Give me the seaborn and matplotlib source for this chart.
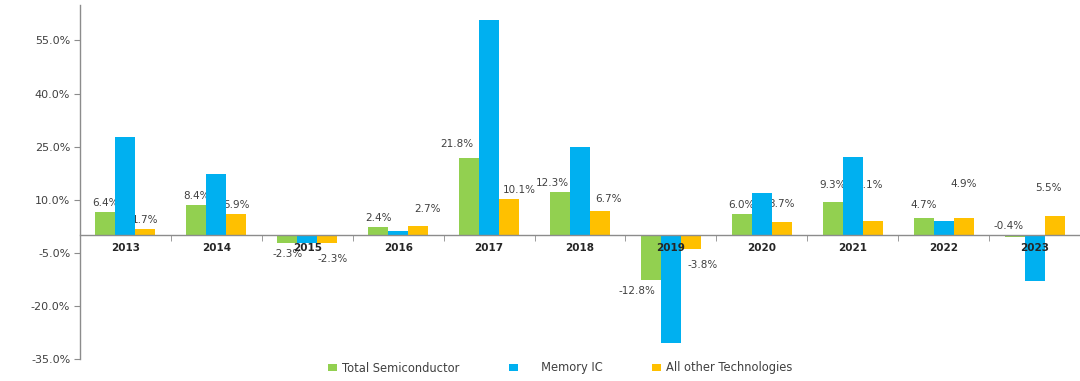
import matplotlib
matplotlib.use('Agg')
import matplotlib.pyplot as plt
import seaborn as sns
import pandas as pd

# dados do gráfico (crescimento anual, %)
years = ['2013', '2014', '2015', '2016', '2017', '2018', '2019', '2020', '2021', '2022', '2023']
total_semi = [6.4, 8.4, -2.3, 2.4, 21.8, 12.3, -12.8, 6.0, 9.3, 4.7, -0.4]
memory_ic = [27.8, 17.3, -2.3, 1.1, 60.8, 24.8, -30.5, 11.9, 22.2, 3.9, -13.1]
other_tech = [1.7, 5.9, -2.3, 2.7, 10.1, 6.7, -3.8, 3.7, 4.1, 4.9, 5.5]

series = ['Total Semiconductor', 'Memory IC', 'All other Technologies']
legend_labels = ['Total Semiconductor', '     Memory IC', 'All other Technologies']
colors = ['#92D050', '#00B0F0', '#FFC000']
yticks = [-35, -20, -5, 10, 25, 40, 55]

# ajustes manuais de rótulos (px): (ano, série) -> (dx, dy)
label_nudge = {
    ('2015', 2): (5, -5), ('2016', 2): (9, 8), ('2017', 0): (-12, 5),
    ('2017', 2): (10, 0), ('2018', 0): (-8, 0), ('2018', 2): (9, 3),
    ('2019', 0): (-14, 0), ('2019', 2): (12, -5), ('2020', 2): (0, 9),
    ('2021', 0): (0, 8), ('2021', 2): (-3, 27), ('2022', 0): (0, 4),
    ('2022', 2): (0, 25), ('2023', 0): (-6, 0), ('2023', 2): (-6, 19),
}

df = pd.DataFrame({
    'Year': years * 3,
    'Growth': total_semi + memory_ic + other_tech,
    'Series': [s for s in series for _ in years],
})

fig = plt.figure(figsize=(10.8, 3.81), dpi=100)
ax = fig.add_axes([80 / 1080, 1 - 359 / 381, 1 - 80 / 1080, 354 / 381])

sns.barplot(data=df, x='Year', y='Growth', hue='Series', hue_order=series,
            palette=colors, width=0.66, saturation=1, ax=ax)
handles, _ = ax.get_legend_handles_labels()
ax.legend_.remove()

ax.set_xlim(-0.5, len(years) - 0.5)
ax.set_ylim(-35, 65)
ax.set_yticks(yticks)
ax.set_yticklabels([f'{v:.1f}%' for v in yticks], fontsize=8, color='#404040')
ax.set_xlabel('')
ax.set_ylabel('')

for s in ['top', 'right']:
    ax.spines[s].set_visible(False)
ax.spines['bottom'].set_position(('data', 0))
for s in ['left', 'bottom']:
    ax.spines[s].set_color('#8c8c8c')
    ax.spines[s].set_linewidth(1)

ax.tick_params(axis='y', direction='out', length=4, color='#8c8c8c', pad=3)
ax.tick_params(axis='x', which='major', length=0, pad=6)
ax.set_xticks([i + 0.5 for i in range(len(years))], minor=True)
ax.tick_params(axis='x', which='minor', direction='out', length=4, color='#8c8c8c')
for t in ax.get_xticklabels():
    t.set_fontweight('bold')
    t.set_fontsize(7.5)
    t.set_color('#262626')

# rótulos só para Total Semiconductor e All other Technologies
for k in [0, 2]:
    for i, bar in enumerate(ax.containers[k]):
        v = [total_semi, memory_ic, other_tech][k][i]
        x = bar.get_x() + bar.get_width() / 2
        if v >= -1:
            y0, off = max(v, 0), 9
        else:
            y0, off = v, -11
        dx, dy = label_nudge.get((years[i], k), (0, 0))
        ax.annotate(f'{v:.1f}%', (x, y0), xytext=(dx * 0.72, (off + dy) * 0.72),
                    textcoords='offset points', ha='center', va='center',
                    fontsize=7.5, color='#404040', zorder=0.5)

fig.legend(handles, legend_labels, loc='center', bbox_to_anchor=(0.519, 1 - 368 / 381),
           ncol=3, frameon=False, fontsize=8.3, handlelength=0.75, handleheight=0.55,
           handletextpad=0.45, columnspacing=4.3, labelcolor='#404040')

plt.savefig('out.png', dpi=100)
plt.close()
